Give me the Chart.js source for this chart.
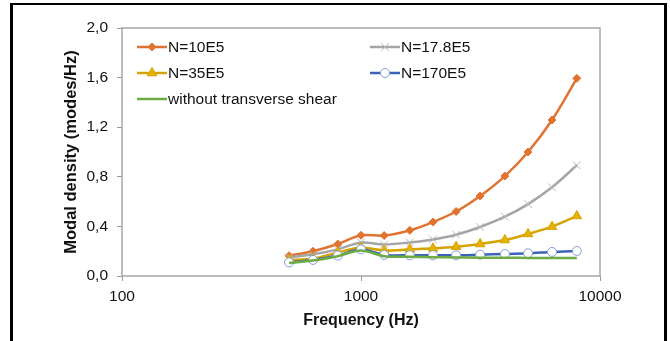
<!DOCTYPE html>
<html>
<head>
<meta charset="utf-8">
<script src="https://cdn.jsdelivr.net/npm/chart.js@4.4.1/dist/chart.umd.min.js"></script>
<style>
  html, body { margin: 0; padding: 0; background: #fff; }
  #wrap { position: relative; width: 670px; height: 341px; overflow: hidden; }
  #frame { position: absolute; left: 10px; top: 3px; width: 651px; height: 400px;
           border-left: 3px solid #000; border-right: 3px solid #000; border-top: 2px solid #000;
           pointer-events: none; }
  canvas { position: absolute; left: 0; top: 0; }
</style>
</head>
<body>
<div id="wrap">
  <canvas id="c" width="670" height="341"></canvas>
  <div id="frame"></div>
</div>
<script>
// ---- data ----
const frequencies = [500, 630, 800, 1000, 1250, 1600, 2000, 2500, 3150, 4000, 5000, 6300, 8000];
const seriesN10E5   = [0.164, 0.200, 0.258, 0.328, 0.326, 0.368, 0.435, 0.520, 0.645, 0.806, 1.000, 1.258, 1.594];
const seriesN178E5  = [0.150, 0.175, 0.215, 0.270, 0.255, 0.270, 0.295, 0.333, 0.395, 0.478, 0.580, 0.715, 0.893];
const seriesN35E5   = [0.130, 0.140, 0.190, 0.230, 0.205, 0.215, 0.223, 0.236, 0.258, 0.290, 0.339, 0.398, 0.484];
const seriesN170E5  = [0.110, 0.130, 0.165, 0.215, 0.170, 0.167, 0.167, 0.167, 0.172, 0.177, 0.183, 0.194, 0.202];
const seriesNoShear = [0.105, 0.125, 0.160, 0.205, 0.160, 0.155, 0.152, 0.150, 0.148, 0.147, 0.146, 0.145, 0.145];
const seriesLabels = ['N=10E5', 'N=17.8E5', 'N=35E5', 'N=170E5', 'without transverse shear'];
const xTickValues = [100, 1000, 10000];
const xTickLabels = ['100', '1000', '10000'];
const yTickValues = [0, 0.4, 0.8, 1.2, 1.6, 2.0];
const yTickLabels = ['0,0', '0,4', '0,8', '1,2', '1,6', '2,0'];
const xTitle = 'Frequency (Hz)';
const yTitle = 'Modal density (modes/Hz)';

const FONT = "'Liberation Sans', Arial, sans-serif";
const pts = arr => arr.map((v, i) => ({ x: frequencies[i], y: v }));

const styles = [
  { color: '#E0732F', pointStyle: 'rectRot', radius: 4, fill: '#E0732F', bw: 1 },
  { color: '#A5A5A5', pointStyle: 'crossRot', radius: 5.5, fill: '#A5A5A5', bw: 1, pointColor: '#B8B8B8' },
  { color: '#D6A300', pointStyle: 'triangle', radius: 5.5, fill: '#E6B200', bw: 1 },
  { color: '#3B64B9', pointStyle: 'circle', radius: 4.5, fill: '#ffffff', bw: 1, pointColor: '#7E9FDA' },
  { color: '#6EAB45', pointStyle: false, radius: 0, fill: '#6EAB45', bw: 0 }
];
const allSeries = [seriesN10E5, seriesN178E5, seriesN35E5, seriesN170E5, seriesNoShear];

const datasets = allSeries.map((s, i) => ({
  label: seriesLabels[i],
  data: pts(s),
  borderColor: styles[i].color,
  backgroundColor: styles[i].fill,
  borderWidth: 2.5,
  tension: 0.3,
  pointStyle: styles[i].pointStyle,
  pointRadius: styles[i].radius,
  pointBorderColor: styles[i].pointColor || styles[i].color,
  pointBackgroundColor: styles[i].fill,
  pointBorderWidth: styles[i].bw,
  order: 5 - i
}));

const legendPos = [
  { x: 137, y: 47 }, { x: 370, y: 47 },
  { x: 137, y: 73 }, { x: 370, y: 73 },
  { x: 137, y: 99 }
];

const framePlugin = {
  id: 'frame',
  beforeDatasetsDraw(chart) {
    const { ctx, chartArea: a } = chart;
    ctx.save();
    ctx.strokeStyle = '#A6A6A6';
    ctx.lineWidth = 1.5;
    ctx.strokeRect(a.left, a.top, a.right - a.left, a.bottom - a.top);
    ctx.restore();
  },
  afterDatasetsDraw(chart) {
    const { ctx } = chart;
    ctx.save();
    chart.data.datasets.forEach((ds, i) => {
      const p = legendPos[i];
      ctx.strokeStyle = ds.borderColor;
      ctx.lineWidth = 2.5;
      ctx.beginPath();
      ctx.moveTo(p.x, p.y);
      ctx.lineTo(p.x + 30, p.y);
      ctx.stroke();
      if (ds.pointStyle && Chart.helpers && Chart.helpers.drawPoint) {
        ctx.fillStyle = ds.pointBackgroundColor;
        ctx.strokeStyle = ds.pointBorderColor;
        ctx.lineWidth = ds.pointBorderWidth;
        Chart.helpers.drawPoint(ctx, { pointStyle: ds.pointStyle, rotation: 0, radius: ds.pointRadius, borderWidth: ds.pointBorderWidth }, p.x + 15, p.y);
      }
      ctx.fillStyle = '#111';
      ctx.font = '15.5px ' + FONT;
      ctx.textAlign = 'left';
      ctx.textBaseline = 'middle';
      ctx.fillText(ds.label, p.x + 31, p.y + 1);
    });
    ctx.restore();
  }
};

new Chart(document.getElementById('c'), {
  type: 'line',
  data: { datasets },
  plugins: [framePlugin],
  options: {
    responsive: false,
    animation: false,
    layout: { padding: { left: 48, top: 28, right: 70, bottom: 0 } },
    plugins: { legend: { display: false }, tooltip: { enabled: false } },
    scales: {
      x: {
        type: 'logarithmic', min: 100, max: 10000,
        afterBuildTicks: s => { s.ticks = xTickValues.map(v => ({ value: v })); },
        ticks: {
          callback: (v, i) => xTickLabels[i],
          font: { family: FONT, size: 15.5 }, color: '#111', padding: 6,
          maxRotation: 0, autoSkip: false
        },
        grid: { drawOnChartArea: false, drawTicks: true, tickLength: 5, color: '#999' },
        border: { display: false },
        title: { display: true, text: xTitle, color: '#111',
                 font: { family: FONT, size: 16, weight: 'bold' }, padding: { top: 0, bottom: 11 } },
        afterFit: s => { s.height = 65; }
      },
      y: {
        min: 0, max: 2,
        afterBuildTicks: s => { s.ticks = yTickValues.map(v => ({ value: v })); },
        ticks: {
          callback: (v, i) => yTickLabels[i],
          font: { family: FONT, size: 15.5 }, color: '#111', padding: 9
        },
        grid: { drawOnChartArea: false, drawTicks: true, tickLength: 5, color: '#999' },
        border: { display: false },
        title: { display: true, text: yTitle, color: '#111',
                 font: { family: FONT, size: 16.5, weight: 'bold' }, padding: { top: 14, bottom: 0 } },
        afterFit: s => { s.width = 74; }
      }
    }
  }
});
</script>
</body>
</html>
